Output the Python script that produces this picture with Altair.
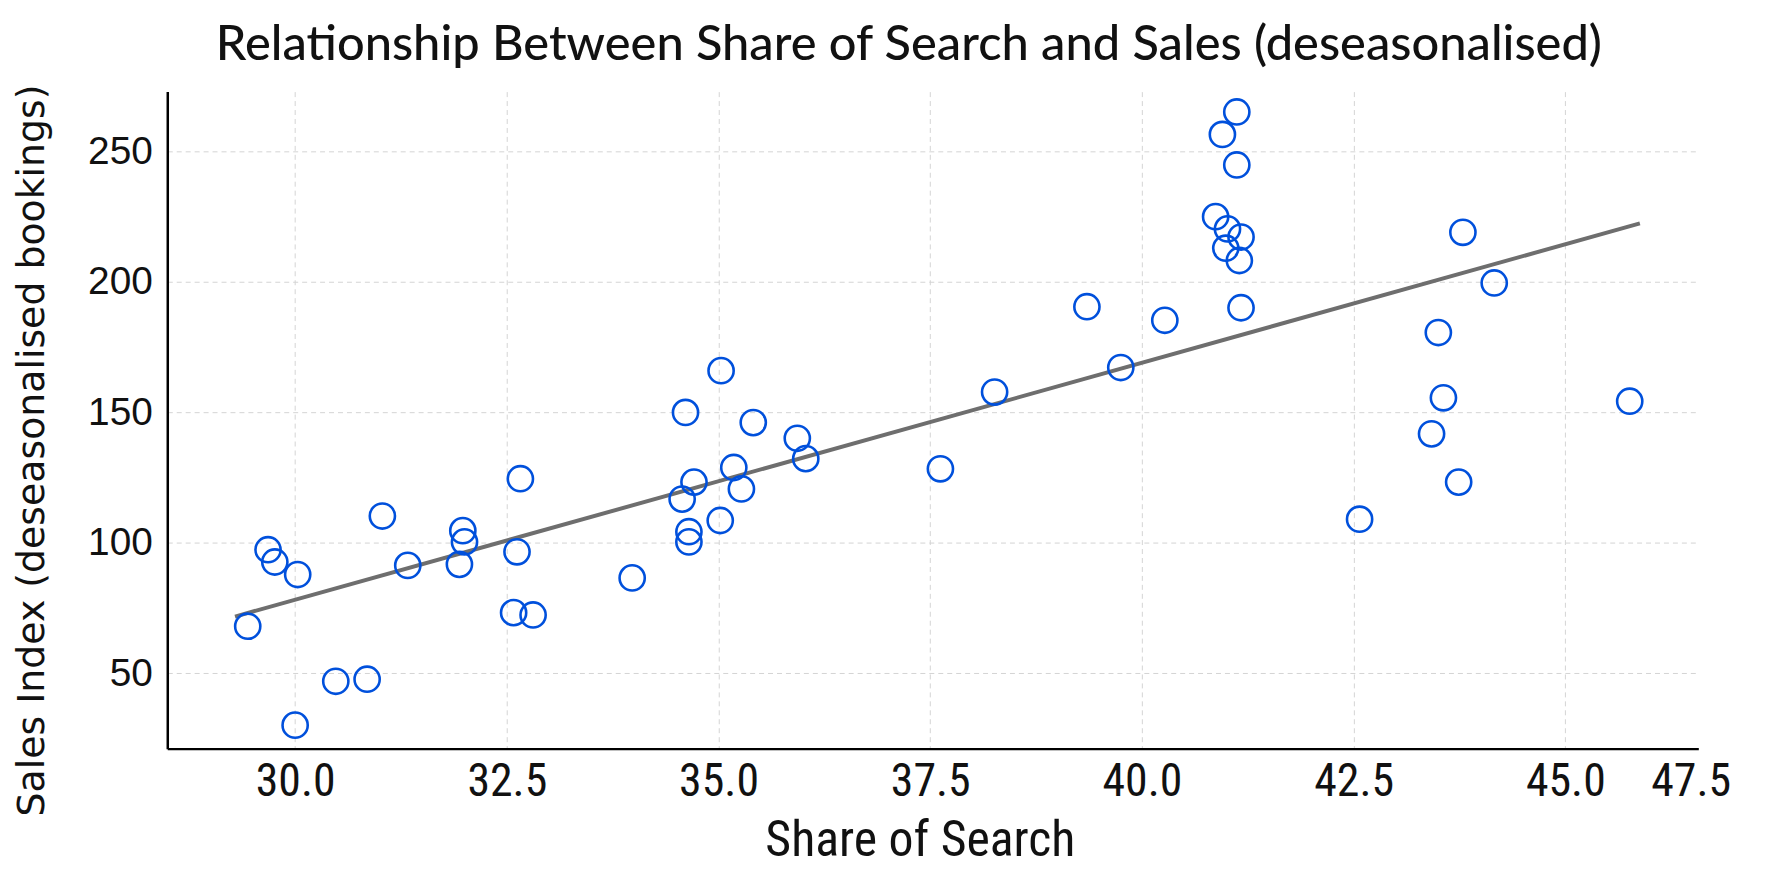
import altair as alt
import pandas as pd

# Share of Search (x) and Sales Index (y)
share_of_search = [
    29.44, 29.68, 29.76, 30.03, 30.00, 30.48, 30.85, 31.03, 31.33, 31.98,
    32.00, 31.94, 32.66, 32.62, 32.58, 32.81, 33.98, 34.57, 34.61, 34.71,
    34.65, 34.65, 35.03, 35.02, 35.18, 35.27, 35.41, 35.93, 36.03, 37.62,
    38.26, 39.35, 39.75, 40.27, 40.87, 40.95, 41.12, 41.12, 41.01, 40.99,
    41.17, 41.15, 41.17, 42.57, 43.42, 43.50, 43.56, 43.74, 43.79, 44.16,
    45.76,
]
sales_index = [
    68.1, 97.4, 92.7, 87.9, 30.2, 47.0, 47.8, 110.3, 91.4, 104.7,
    100.4, 91.8, 124.6, 96.6, 73.3, 72.4, 86.6, 116.8, 150.0, 123.3,
    104.3, 100.4, 166.0, 108.6, 128.9, 120.7, 146.1, 140.1, 132.3, 128.4,
    157.8, 190.5, 167.2, 185.3, 225.0, 256.5, 265.1, 244.8, 220.3, 212.9,
    217.2, 208.2, 190.1, 109.1, 141.8, 180.6, 155.6, 123.3, 219.0, 199.6,
    154.3,
]

# Fitted trend line end points
fit_x = [29.29, 45.88]
fit_y = [71.8, 222.4]

# Axis ticks and labels
x_tick_values = [30.0, 32.5, 35.0, 37.5, 40.0, 42.5, 45.0, 46.48]
x_tick_labels = ["30.0", "32.5", "35.0", "37.5", "40.0", "42.5", "45.0", "47.5"]
y_tick_values = [50, 100, 150, 200, 250]

x_domain = [28.49, 46.57]
y_domain = [21.2, 272.9]

points = pd.DataFrame({"share": share_of_search, "sales": sales_index})
fit = pd.DataFrame({"share": fit_x, "sales": fit_y})

label_expr = " : ".join(
    [f"datum.value == {v} ? '{l}'" for v, l in zip(x_tick_values, x_tick_labels)]
) + " : ''"

NARROW = "Liberation Sans Narrow, Roboto Condensed, DejaVu Sans Condensed, sans-serif"

x_axis = alt.Axis(
    values=x_tick_values,
    labelExpr=label_expr,
    title="Share of Search",
    ticks=False,
    tickSize=0,
    labelPadding=11,
    labelFont=NARROW,
    labelFontSize=46,
    labelColor="#111111",
    labelFlush=False,
    labelOverlap=False,
    titleFont=NARROW,
    titleFontSize=50,
    titleFontWeight="normal",
    titleColor="#111111",
    titleX=756,
    titleY=107,
    titleBaseline="alphabetic",
    titleAlign="center",
    domainColor="#000000",
    domainWidth=2.5,
    grid=True,
    gridColor="#d4d4d4",
    gridDash=[5, 4],
    gridWidth=1,
    gridOpacity={"condition": {"test": "datum.value > 46", "value": 0}, "value": 1},
)

y_axis = alt.Axis(
    values=y_tick_values,
    title="Sales Index (deseasonalised bookings)",
    ticks=False,
    tickSize=0,
    labelPadding=15,
    labelFont="Liberation Sans, Arial, sans-serif",
    labelFontSize=39,
    labelColor="#111111",
    labelFlush=False,
    titleFont="DejaVu Sans, sans-serif",
    titleFontSize=38,
    titleFontWeight="normal",
    titleColor="#111111",
    titleAngle=270,
    titleX=-135,
    titleY=360,
    titleBaseline="middle",
    titleAlign="center",
    domainColor="#000000",
    domainWidth=2.5,
    grid=True,
    gridColor="#d4d4d4",
    gridDash=[5, 4],
    gridWidth=1,
)

x_enc = alt.X("share:Q", scale=alt.Scale(domain=x_domain, nice=False, zero=False), axis=x_axis)
y_enc = alt.Y("sales:Q", scale=alt.Scale(domain=y_domain, nice=False, zero=False), axis=y_axis)

scatter = alt.Chart(points).mark_point(
    shape="circle", filled=False, size=640, strokeWidth=2.6, color="#0050DC", opacity=1
).encode(x=x_enc, y=y_enc)

line = alt.Chart(fit).mark_line(color="#6e6e6e", strokeWidth=4).encode(
    x=alt.X("share:Q"), y=alt.Y("sales:Q")
)

chart = (
    alt.layer(line, scatter)
    .properties(
        width=1538,
        height=660,
        padding={"left": 160, "top": 82, "right": 68, "bottom": 137},
        autosize=alt.AutoSizeParams(type="none"),
        view=alt.ViewBackground(stroke="transparent", strokeWidth=0, strokeOpacity=0),
        title=alt.TitleParams(
            text="Relationship Between Share of Search and Sales (deseasonalised)",
            font="Lato, Inter, sans-serif",
            fontSize=49,
            fontWeight=500,
            color="#111111",
            anchor="middle",
            frame="group",
            dx=-24,
            offset=14,
        ),
    )
    .configure_view(stroke="transparent", strokeOpacity=0, strokeWidth=0)
    .configure(background="white", style={"cell": {"stroke": "transparent", "strokeWidth": 0}})
)

chart.save("out.html", embed_options={"renderer": "svg", "actions": False})
